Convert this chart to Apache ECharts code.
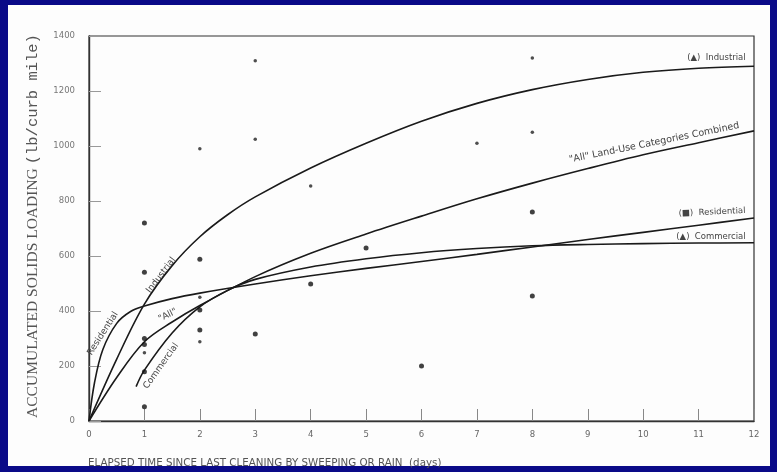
<!DOCTYPE html>
<html>
<head>
<meta charset="utf-8">
<script src="https://cdn.jsdelivr.net/npm/echarts@6/dist/echarts.min.js"></script>
<style>
html,body{margin:0;padding:0;background:#0a0a88;}
#c{width:777px;height:472px;}
</style>
</head>
<body>
<div id="c"></div>
<script>
// ---- data ----
const xTicks = [0,1,2,3,4,5,6,7,8,9,10,11,12];
const yTicks = [0,200,400,600,800,1000,1200,1400];

const industrialX = [0, 0.5, 1, 1.5, 2, 2.5, 3, 4, 5, 6, 7, 8, 9, 10, 11, 12];
const industrialY = [0, 225, 425, 565, 670, 750, 815, 920, 1010, 1090, 1155, 1205, 1242, 1268, 1283, 1290];

const allX = [0, 0.5, 1, 1.5, 2, 3, 4, 5, 6, 7, 8, 9, 10, 11, 12];
const allY = [0, 158, 288, 360, 420, 525, 610, 680, 745, 808, 865, 918, 968, 1012, 1055];

const residentialX = [0, 0.1, 0.25, 0.5, 0.75, 1, 1.5, 2, 3, 4, 5, 6, 7, 8, 9, 10, 11, 12];
const residentialY = [0, 140, 260, 355, 398, 418, 445, 465, 498, 528, 555, 580, 606, 633, 660, 686, 712, 738];

const commercialX = [0.85, 1, 1.5, 2, 2.5, 3, 4, 5, 6, 7, 8, 9, 10, 11, 12];
const commercialY = [125, 185, 320, 415, 475, 515, 560, 590, 612, 627, 637, 642, 645, 647, 648];

const bigDotsX = [1, 1, 1, 1, 1, 1, 2, 2, 2, 3, 4, 5, 6, 8, 8];
const bigDotsY = [720, 541, 300, 278, 179, 52, 588, 404, 331, 316, 498, 629, 200, 760, 455];

const smallDotsX = [2, 3, 3, 4, 7, 8, 8, 1, 2, 2];
const smallDotsY = [990, 1310, 1025, 855, 1010, 1320, 1050, 248, 450, 288];

const pairs = (xs, ys) => xs.map((x, i) => [x, ys[i]]);

const chart = echarts.init(document.getElementById('c'));
const lineStyle = { color: '#1a1a1a', width: 1.6 };
function curve(name, xs, ys) {
  return { name, type: 'line', data: pairs(xs, ys), smooth: 0.35, showSymbol: false,
           lineStyle, silent: true, z: 3 };
}
chart.setOption({
  backgroundColor: '#0a0a88',
  animation: false,
  grid: { left: 89, top: 36, right: 23, bottom: 51, show: true, borderColor: '#333', borderWidth: 1.2 },
  xAxis: {
    type: 'value', min: 0, max: 12, interval: 1,
    axisLine: { lineStyle: { color: '#333', width: 1.4 } },
    axisTick: { inside: true, length: 12, lineStyle: { color: '#888', width: 1 } },
    axisLabel: { fontSize: 8.5, color: '#666', margin: 9, fontFamily: 'DejaVu Sans',
                 formatter: v => xTicks.includes(v) ? String(v) : '' },
    splitLine: { show: false }
  },
  yAxis: {
    type: 'value', min: 0, max: 1400, interval: 200,
    axisLine: { show: true, lineStyle: { color: '#333', width: 1.4 } },
    axisTick: { show: true, inside: true, length: 12, lineStyle: { color: '#999', width: 1 } },
    axisLabel: { fontSize: 8.5, color: '#777', margin: 14, fontFamily: 'DejaVu Sans',
                 formatter: v => yTicks.includes(v) ? String(v) : '' },
    splitLine: { show: false }
  },
  series: [
    curve('Industrial', industrialX, industrialY),
    curve('All', allX, allY),
    curve('Residential', residentialX, residentialY),
    curve('Commercial', commercialX, commercialY),
    { type: 'scatter', data: pairs(bigDotsX, bigDotsY), symbol: 'circle', symbolSize: 5,
      itemStyle: { color: '#111' }, z: 4 },
    { type: 'scatter', data: pairs(smallDotsX, smallDotsY), symbol: 'circle', symbolSize: 3.5,
      itemStyle: { color: '#222' }, z: 4 }
  ]
});

function px(x, y) { return chart.convertToPixel({ gridIndex: 0 }, [x, y]); }
const lblStyle = (text, extra) => Object.assign({ text, fontSize: 7.5, fill: '#444',
  fontFamily: 'DejaVu Sans' }, extra);
function label(text, dx, dy, rot, align, valign, size) {
  const p = px(dx, dy);
  return { type: 'text', x: p[0], y: p[1], rotation: rot, z: 20,
           style: lblStyle(text, { align: align, verticalAlign: valign, fontSize: size || 7.5 }) };
}

chart.setOption({
  graphic: [
    { type: 'rect', z: -100, shape: { x: 8, y: 5, width: 762, height: 461 }, style: { fill: '#fdfdfd' } },
    { type: 'text', x: 33, y: 226, rotation: Math.PI / 2, z: 20,
      style: { text: '{a|ACCUMULATED SOLIDS LOADING }{b|(lb/curb mile)}', align: 'center', verticalAlign: 'middle',
        rich: { a: { fontFamily: 'Liberation Serif', fontSize: 15.5, fill: '#555' },
                b: { fontFamily: 'Liberation Mono', fontSize: 15.5, fill: '#555' } } } },
    { type: 'text', x: 88, y: 463, z: 20,
      style: { text: 'ELAPSED TIME SINCE LAST CLEANING BY SWEEPING OR RAIN  (days)', fontFamily: 'DejaVu Sans',
               fontSize: 10.3, fill: '#555', align: 'left', verticalAlign: 'middle' } },
    label('(▲)  Industrial', 11.85, 1305, 0, 'right', 'bottom', 8.5),
    label('"All" Land-Use Categories Combined', 10.2, 1012, 0.2, 'center', 'middle', 9.5),
    label('(■)  Residential', 11.85, 748, 0.04, 'right', 'bottom', 8.5),
    label('(▲)  Commercial', 11.85, 655, 0, 'right', 'bottom', 8.5),
    label('Industrial', 1.3, 530, 0.92, 'center', 'middle', 9),
    label('Residential', 0.25, 318, 1.0, 'center', 'middle', 9),
    label('"All"', 1.42, 385, 0.45, 'center', 'middle', 9),
    label('Commercial', 1.3, 200, 0.95, 'center', 'middle', 9)
  ]
});
</script>
</body>
</html>
